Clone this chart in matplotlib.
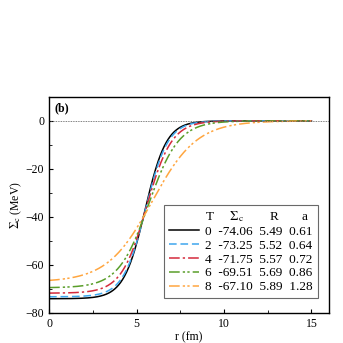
import numpy as np
import matplotlib
matplotlib.use("Agg")
import matplotlib.pyplot as plt
from matplotlib.lines import Line2D
from matplotlib.ticker import MultipleLocator

plt.rcParams['font.family'] = ['Liberation Serif', 'DejaVu Serif']
plt.rcParams['mathtext.fontset'] = 'stix'

# Woods-Saxon parameters shown in the legend
T = [0, 2, 4, 6, 8]
Sigma_c = [-74.06, -73.25, -71.75, -69.51, -67.10]
R = [5.49, 5.52, 5.57, 5.69, 5.89]
a = [0.61, 0.64, 0.72, 0.86, 1.28]

colors = ['black', '#3ea6ee', '#d42a3c', '#5a9e2a', '#ffa640']
styles = ['-', (0, (5, 2.5)), (0, (7, 2, 1.5, 2)), (0, (7, 2, 1.5, 1.5, 1.5, 2)), (0, (7, 2, 1.5, 1.5, 1.5, 2))]

fig = plt.figure(figsize=(3.43, 3.43), dpi=100)
ax = fig.add_axes([0.143, 0.0875, 0.816, 0.630])

r = np.linspace(0, 15, 400)
handles = []
for Ti, V, Ri, ai, c, ls in zip(T, Sigma_c, R, a, colors, styles):
    y = V / (1 + np.exp((r - Ri) / ai))
    h, = ax.plot(r, y, color=c, ls=ls, lw=1.1)
    handles.append(h)

ax.axhline(0, color='#555555', ls=(0, (1, 1)), lw=0.6)

ax.set_xlim(0, 16)
ax.set_ylim(-80, 10)
ax.xaxis.set_major_locator(MultipleLocator(5))
ax.xaxis.set_minor_locator(MultipleLocator(2.5))
ax.yaxis.set_major_locator(MultipleLocator(20))
ax.yaxis.set_minor_locator(MultipleLocator(10))
ax.tick_params(which='both', direction='in', top=False, right=False, labelsize=8.5)
ax.tick_params(which='major', length=3)
ax.tick_params(which='minor', length=2)
for s in ax.spines.values():
    s.set_linewidth(1.0)

ax.set_xlabel('r (fm)', fontsize=8.5, labelpad=1)
ax.set_ylabel(r'$\Sigma_{\rm c}$ (MeV)', fontsize=8.5, labelpad=1)
ax.text(0.02, 0.975, '(b)', transform=ax.transAxes, fontsize=8.5, fontweight='bold', va='top', ha='left')

header = Line2D([], [], color='none')
labels = ['T     $\\Sigma_{\\rm c}$        R       a']
for Ti, V, Ri, ai in zip(T, Sigma_c, R, a):
    labels.append(f'{Ti}  {V:.2f}  {Ri:.2f}  {ai:.2f}')
leg = ax.legend([header] + handles, labels, loc='lower right', bbox_to_anchor=(0.96, 0.07),
                fontsize=9.5, frameon=True, fancybox=False, edgecolor='#444444',
                handlelength=2.3, handletextpad=0.5, borderpad=0.35, labelspacing=0.12,
                borderaxespad=0.0)
leg.get_frame().set_linewidth(0.8)

fig.savefig('out.png', dpi=100)
